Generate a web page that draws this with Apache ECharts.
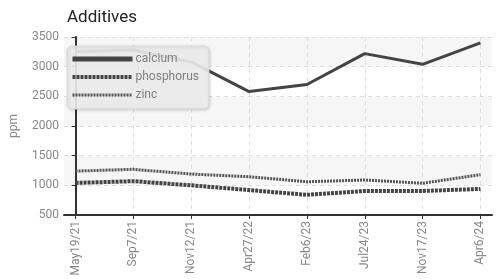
<!DOCTYPE html>
<html>
<head>
<meta charset="utf-8">
<script src="https://cdn.jsdelivr.net/npm/echarts@6/dist/echarts.min.js"></script>
<style>
  html, body { margin: 0; padding: 0; background: #fff; }
  #main { width: 496px; height: 279px; }
</style>
</head>
<body>
<div id="main"></div>
<script>
// sample dates and additive readings (ppm)
var dates = ['May19/21', 'Sep7/21', 'Nov12/21', 'Apr27/22', 'Feb6/23', 'Jul24/23', 'Nov17/23', 'Apr6/24'];
var calcium = [3250, 3280, 3080, 2580, 2700, 3220, 3040, 3400];
var phosphorus = [1040, 1070, 1000, 920, 840, 905, 905, 940];
var zinc = [1240, 1270, 1190, 1145, 1060, 1090, 1035, 1180];
var yTicks = [500, 1000, 1500, 2000, 2500, 3000, 3500];

var chartDom = document.getElementById('main');
var myChart = echarts.init(chartDom);
var font = 'Roboto, "Liberation Sans", sans-serif';
var idx = dates.map(function (d, i) { return i; });

function pairs(arr) {
  return arr.map(function (v, i) { return [i, v]; });
}

var option = {
  animation: false,
  textStyle: { fontFamily: font },
  title: {
    text: 'Additives',
    left: 62,
    top: 4,
    textStyle: { fontSize: 17, fontWeight: 'normal', color: '#222', fontFamily: font }
  },
  legend: {
    orient: 'vertical',
    left: 67,
    top: 46,
    padding: [7, 10, 8, 3],
    itemWidth: 60,
    itemHeight: 12,
    itemGap: 6,
    backgroundColor: 'rgba(236,236,236,0.9)',
    borderColor: '#d8d8d8',
    borderWidth: 1,
    borderRadius: 5,
    shadowColor: 'rgba(0,0,0,0.15)',
    shadowBlur: 3,
    shadowOffsetX: 1,
    shadowOffsetY: 1,
    itemStyle: { opacity: 0 },
    textStyle: { color: '#808080', fontSize: 12, fontFamily: font, padding: [0, 0, 0, -2] },
    data: [
      { name: 'calcium', lineStyle: { width: 5, color: '#444' } },
      { name: 'phosphorus', lineStyle: { width: 4, color: '#444', type: [3, 1] } },
      { name: 'zinc', lineStyle: { width: 3, color: '#555', type: [2, 1] } }
    ]
  },
  grid: { left: 58, right: 4, top: 37, bottom: 64 },
  xAxis: {
    type: 'value',
    min: -0.2,
    max: dates.length - 0.8,
    axisLine: { onZero: false, lineStyle: { color: '#333', width: 2 } },
    axisTick: { show: true, length: 4, customValues: idx, lineStyle: { color: '#333' } },
    axisLabel: {
      customValues: idx,
      rotate: 90,
      color: '#888',
      fontSize: 12,
      fontFamily: font,
      margin: 6,
      formatter: function (v) { return dates[Math.round(v)]; }
    },
    splitLine: { show: true, lineStyle: { color: '#ddd', type: [4, 4] } }
  },
  yAxis: {
    type: 'value',
    min: yTicks[0],
    max: yTicks[yTicks.length - 1],
    interval: 500,
    name: 'ppm',
    nameLocation: 'middle',
    nameGap: 44,
    nameTextStyle: { color: '#888', fontSize: 12, fontFamily: font },
    axisLine: { show: true, lineStyle: { color: '#333', width: 2 } },
    axisTick: { show: true, length: 4, lineStyle: { color: '#333' } },
    axisLabel: {
      color: '#888',
      fontSize: 12,
      fontFamily: font,
      margin: 5,
      formatter: function (v) { return String(v); }
    },
    splitLine: { show: true, lineStyle: { color: '#ddd', type: [4, 4] } },
    splitArea: { show: true, areaStyle: { color: ['#ffffff', '#f6f6f6'] } }
  },
  series: [
    {
      name: 'calcium',
      type: 'line',
      symbol: 'none',
      data: pairs(calcium),
      lineStyle: { color: '#444', width: 3 },
      itemStyle: { color: '#444' },
      z: 3
    },
    {
      name: 'phosphorus',
      type: 'line',
      symbol: 'none',
      data: pairs(phosphorus),
      lineStyle: { color: '#444', width: 4, type: [3, 1] },
      itemStyle: { color: '#444' },
      z: 2
    },
    {
      name: 'zinc',
      type: 'line',
      symbol: 'none',
      data: pairs(zinc),
      lineStyle: { color: '#555', width: 3, type: [2, 1] },
      itemStyle: { color: '#555' },
      z: 2
    }
  ]
};

option && myChart.setOption(option);
</script>
</body>
</html>
